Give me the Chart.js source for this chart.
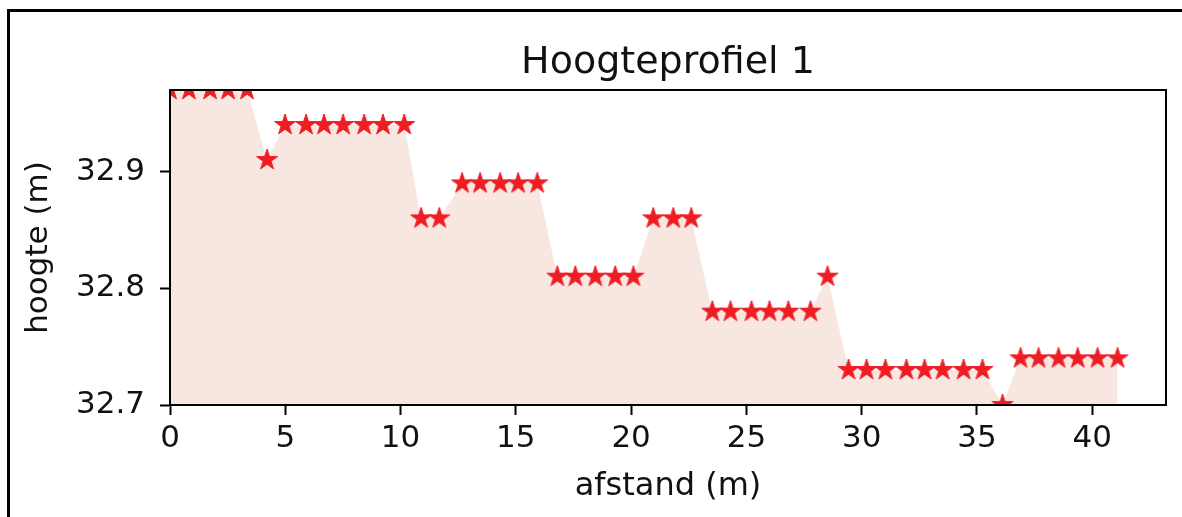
<!DOCTYPE html>
<html>
<head>
<meta charset="utf-8">
<script src="https://cdn.jsdelivr.net/npm/chart.js@4/dist/chart.umd.min.js"></script>
<style>
  html, body { margin: 0; padding: 0; background: #ffffff; }
  #wrap { position: relative; width: 1182px; height: 517px; }
</style>
</head>
<body>
<div id="wrap"><canvas id="c" width="1182" height="517"></canvas></div>
<script>
// Measured profile: distance along the line (m) and surface height (m)
const distances = [0, 0.82, 1.74, 2.52, 3.34, 4.21, 4.99, 5.90, 6.68, 7.51,
  8.42, 9.24, 10.16, 10.89, 11.68, 12.67, 13.45, 14.32, 15.10, 15.93,
  16.80, 17.58, 18.45, 19.31, 20.10, 20.96, 21.83, 22.61, 23.52, 24.31,
  25.22, 26.00, 26.82, 27.78, 28.52, 29.43, 30.21, 31.03, 31.94, 32.73,
  33.51, 34.42, 35.24, 36.11, 36.89, 37.67, 38.54, 39.37, 40.23, 41.10];
const heights = [32.97, 32.97, 32.97, 32.97, 32.97, 32.91, 32.94, 32.94, 32.94, 32.94,
  32.94, 32.94, 32.94, 32.86, 32.86, 32.89, 32.89, 32.89, 32.89, 32.89,
  32.81, 32.81, 32.81, 32.81, 32.81, 32.86, 32.86, 32.86, 32.78, 32.78,
  32.78, 32.78, 32.78, 32.78, 32.81, 32.73, 32.73, 32.73, 32.73, 32.73,
  32.73, 32.73, 32.73, 32.70, 32.74, 32.74, 32.74, 32.74, 32.74, 32.74];

const xTicks = [0, 5, 10, 15, 20, 25, 30, 35, 40];
const yTicks = [32.7, 32.8, 32.9];

const titleText = 'Hoogteprofiel 1';
const xLabel = 'afstand (m)';
const yLabel = 'hoogte (m)';

const FONT = 'DejaVu Sans';
const INK = '#111111';
const RED = '#ee1d23';

// filled five-pointed star used as the point marker
function makeStar(outer) {
  const size = Math.ceil(outer * 2 + 4);
  const cv = document.createElement('canvas');
  cv.width = size; cv.height = size;
  const g = cv.getContext('2d');
  const cx = size / 2, cy = size / 2, inner = outer * 0.381966;
  g.beginPath();
  for (let k = 0; k < 10; k++) {
    const r = k % 2 === 0 ? outer : inner;
    const a = -Math.PI / 2 + k * Math.PI / 5;
    const px = cx + r * Math.cos(a), py = cy + r * Math.sin(a);
    if (k === 0) g.moveTo(px, py); else g.lineTo(px, py);
  }
  g.closePath();
  g.fillStyle = RED; g.fill();
  g.strokeStyle = RED; g.lineWidth = 1; g.lineJoin = 'miter'; g.stroke();
  return cv;
}
const star = makeStar(11);

const points = distances.map((d, i) => ({ x: d, y: heights[i] }));

// title centred over the plot area, plot frame and the outer figure edge
const framePlugin = {
  id: 'frame',
  afterDatasetsDraw(chart) {
    const { ctx, chartArea: a } = chart;
    ctx.save();
    ctx.strokeStyle = '#000';
    ctx.lineWidth = 2;
    ctx.strokeRect(a.left, a.top, a.right - a.left, a.bottom - a.top);
    ctx.lineWidth = 3;
    ctx.beginPath();
    ctx.moveTo(8.5, 517);
    ctx.lineTo(8.5, 10.5);
    ctx.lineTo(1182, 10.5);
    ctx.stroke();
    ctx.fillStyle = INK;
    ctx.font = '38px "' + FONT + '"';
    ctx.textAlign = 'center';
    ctx.textBaseline = 'alphabetic';
    ctx.fillText(titleText, (a.left + a.right) / 2, 73);
    ctx.restore();
  }
};

new Chart(document.getElementById('c'), {
  type: 'line',
  data: {
    datasets: [{
      data: points,
      fill: 'start',
      backgroundColor: 'rgb(248,231,225)',
      borderColor: 'rgba(0,0,0,0)',
      borderWidth: 0,
      tension: 0,
      pointStyle: star,
      pointRadius: 10,
      pointHoverRadius: 10,
      clip: 0
    }]
  },
  options: {
    responsive: false,
    animation: false,
    events: [],
    layout: { padding: { left: 0, right: 16, top: 90, bottom: 0 } },
    plugins: {
      legend: { display: false },
      tooltip: { enabled: false },
      title: { display: false }
    },
    scales: {
      x: {
        type: 'linear',
        min: 0,
        max: 43.2,
        afterBuildTicks: s => { s.ticks = xTicks.map(v => ({ value: v })); },
        afterFit: s => { s.height = 112; },
        ticks: {
          color: INK,
          font: { family: FONT, size: 31 },
          padding: 5,
          maxRotation: 0,
          callback: v => String(v)
        },
        grid: {
          drawOnChartArea: false,
          drawTicks: true,
          tickLength: 10,
          tickColor: '#000',
          tickWidth: 2
        },
        border: { display: true, color: '#000', width: 2 },
        title: {
          display: true,
          text: xLabel,
          color: INK,
          font: { family: FONT, size: 32, lineHeight: 1.2 },
          padding: { top: 0, bottom: 11 }
        }
      },
      y: {
        type: 'linear',
        min: 32.70,
        max: 32.97,
        afterBuildTicks: s => { s.ticks = yTicks.map(v => ({ value: v })); },
        afterFit: s => { s.width = 170; },
        ticks: {
          color: INK,
          font: { family: FONT, size: 31 },
          padding: 15,
          callback: v => Number(v).toFixed(1)
        },
        grid: {
          drawOnChartArea: false,
          drawTicks: true,
          tickLength: 10,
          tickColor: '#000',
          tickWidth: 2
        },
        border: { display: true, color: '#000', width: 2 },
        title: {
          display: true,
          text: yLabel,
          color: INK,
          font: { family: FONT, size: 31, lineHeight: 1.2 },
          padding: { top: 20, bottom: 0 }
        }
      }
    }
  },
  plugins: [framePlugin]
});
</script>
</body>
</html>
